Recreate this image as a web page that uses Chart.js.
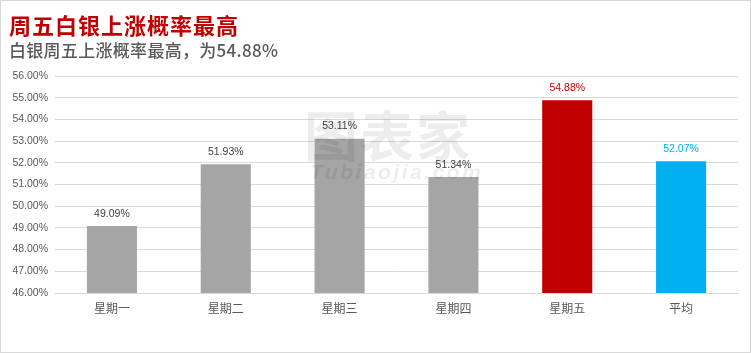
<!DOCTYPE html>
<html lang="zh">
<head>
  <meta charset="UTF-8">
  <title>周五白银上涨概率最高</title>
  <script src="https://cdn.jsdelivr.net/npm/chart.js"></script>
  <style>
    body { margin: 0; background: #fff; }
    .wrap { width: 751px; height: 353px; position: relative; }
  </style>
</head>
<body>
  <div class="wrap"><canvas id="chart" width="751" height="353"></canvas></div>

  <script>
    // 数据
    const days = ["星期一", "星期二", "星期三", "星期四", "星期五", "平均"];
    const upRate = [49.09, 51.93, 53.11, 51.34, 54.88, 52.07];
    const barColors = ["#a5a5a5", "#a5a5a5", "#a5a5a5", "#a5a5a5", "#c00000", "#00b0f0"];
    const labelColors = ["#404040", "#404040", "#404040", "#404040", "#c00000", "#00b0f0"];

    const title = "周五白银上涨概率最高";
    const subtitle = "白银周五上涨概率最高，为54.88%";

    const numFont = "'Liberation Sans', 'Noto Sans CJK SC', sans-serif";
    const cjkFont = "'Noto Sans CJK SC', sans-serif";

    // 标题、水印、外框
    const decor = {
      id: 'decor',
      beforeDraw(chart) {
        const c = chart.ctx;
        c.save();
        c.fillStyle = '#fff';
        c.fillRect(0, 0, chart.width, chart.height);
        c.restore();
      },
      afterDraw(chart) {
        const c = chart.ctx;
        c.save();
        c.textBaseline = 'middle';
        c.textAlign = 'left';
        c.fillStyle = '#c00000';
        c.font = "bold 22px " + cjkFont;
        c.letterSpacing = '1px';
        c.fillText(title, 9, 26);
        c.fillStyle = '#595959';
        c.font = "500 17px " + cjkFont;
        c.letterSpacing = '0.3px';
        c.fillText(subtitle, 9, 51);

        // 水印
        c.fillStyle = 'rgba(0,0,0,0.07)';
        c.font = "bold 54px " + cjkFont;
        c.letterSpacing = '2px';
        c.fillText("图表家", 304, 136);
        c.font = "italic 900 21px " + numFont;
        c.letterSpacing = '2.5px';
        c.fillText("Tubiaojia.com", 310, 173);

        c.letterSpacing = '0px';
        c.strokeStyle = '#d9d9d9';
        c.lineWidth = 1;
        c.strokeRect(0.5, 0.5, chart.width - 1, chart.height - 1);
        c.restore();
      }
    };

    // 柱顶数值
    const barLabels = {
      id: 'barLabels',
      afterDatasetsDraw(chart) {
        const c = chart.ctx;
        const meta = chart.getDatasetMeta(0);
        c.save();
        c.font = "10.5px " + numFont;
        c.textAlign = 'center';
        c.textBaseline = 'bottom';
        meta.data.forEach((bar, i) => {
          c.fillStyle = labelColors[i];
          c.fillText(upRate[i].toFixed(2) + '%', bar.x, bar.y - 7);
        });
        c.restore();
      }
    };

    new Chart(document.getElementById('chart'), {
      type: 'bar',
      data: {
        labels: days,
        datasets: [{
          data: upRate,
          backgroundColor: barColors,
          categoryPercentage: 1,
          barPercentage: 0.44
        }]
      },
      options: {
        responsive: false,
        animation: false,
        layout: { padding: { top: 76, right: 13, left: 0, bottom: 0 } },
        plugins: {
          legend: { display: false },
          tooltip: { enabled: false }
        },
        scales: {
          x: {
            grid: { display: false, drawTicks: false },
            border: { color: '#d9d9d9' },
            ticks: { color: '#595959', font: { family: cjkFont, size: 12 }, padding: 8 },
            afterFit(s) { s.height = 60; }
          },
          y: {
            min: 46,
            max: 56,
            grid: { color: '#d9d9d9', drawTicks: false },
            border: { display: false },
            ticks: {
              stepSize: 1,
              padding: 7,
              color: '#595959',
              font: { family: numFont, size: 10.5 },
              callback: v => v.toFixed(2) + '%'
            },
            afterFit(s) { s.width = 55; }
          }
        }
      },
      plugins: [decor, barLabels]
    });
  </script>
</body>
</html>
